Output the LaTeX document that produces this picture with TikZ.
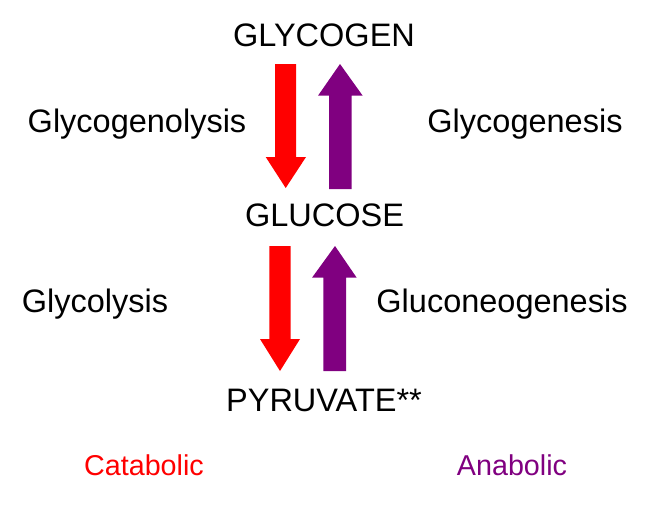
\documentclass[tikz,border=0pt]{standalone}
\usepackage{fontspec}
\setmainfont{Liberation Sans}
\definecolor{cred}{HTML}{FF0000}
\definecolor{cpurple}{HTML}{800080}
\begin{document}
\begin{tikzpicture}[x=1pt,y=-1pt,
  lbl/.style={anchor=base,inner sep=0pt,font=\fontsize{32.5}{36}\selectfont},
  side/.style={anchor=base,inner sep=0pt,font=\fontsize{28.7}{32}\selectfont},
  downarrow/.style={fill=cred,draw=none},
  uparrow/.style={fill=cpurple,draw=none}]
\useasboundingbox (0,0) rectangle (656,520);
% labels
\node[lbl] (glycogen) at (324,46) {GLYCOGEN};
\node[lbl] (glucose) at (324.5,226) {GLUCOSE};
\node[lbl] (pyruvate) at (324,411) {PYRUVATE**};
\node[lbl] (gnl) at (137,132) {Glycogenolysis};
\node[lbl] (gns) at (525,132) {Glycogenesis};
\node[lbl] (gly) at (95,312) {Glycolysis};
\node[lbl] (gng) at (502,312) {Gluconeogenesis};
\node[side,text=cred] (cat) at (144,475) {Catabolic};
\node[side,text=cpurple] (ana) at (512,475) {Anabolic};
% block arrows
\fill[downarrow] (275,64) -- (296,64) -- (296,157) -- (306,157) -- (285.7,188) -- (265.7,157) -- (275,157) -- cycle;
\fill[uparrow] (329,189) -- (351.7,189) -- (351.7,95.7) -- (362.7,95.7) -- (340,64) -- (318,95.7) -- (329,95.7) -- cycle;
\fill[downarrow] (269.3,246) -- (290.7,246) -- (290.7,339) -- (300,339) -- (280,371) -- (260,339) -- (269.3,339) -- cycle;
\fill[uparrow] (323.3,371) -- (346,371) -- (346,277.7) -- (356.7,277.7) -- (335,246) -- (312,277.7) -- (323.3,277.7) -- cycle;
\end{tikzpicture}
\end{document}
